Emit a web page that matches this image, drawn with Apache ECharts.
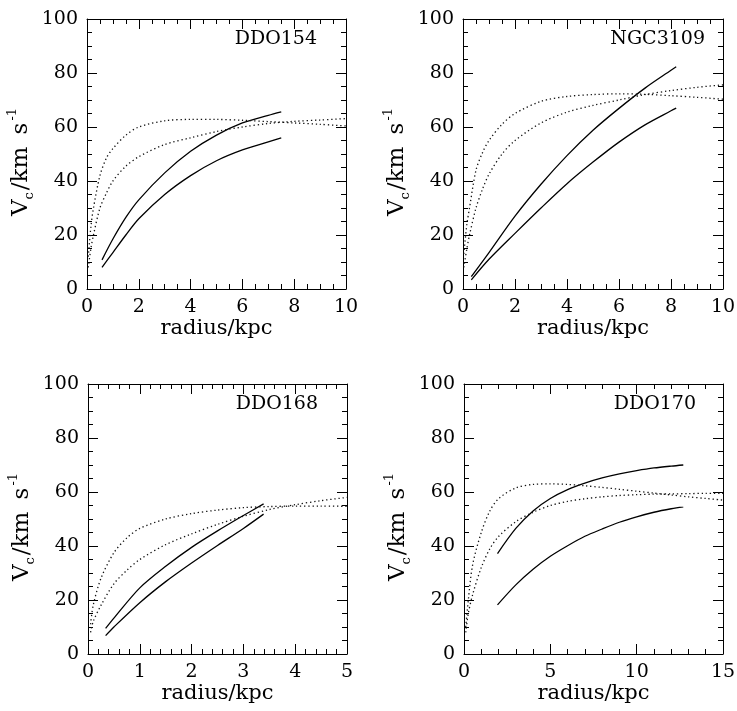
<!DOCTYPE html>
<html>
<head>
<meta charset="utf-8">
<script src="https://cdn.jsdelivr.net/npm/echarts@6/dist/echarts.min.js"></script>
<style>
html, body { margin: 0; padding: 0; background: #fff; }
#chart { width: 737px; height: 711px; }
</style>
</head>
<body>
<div id="chart"></div>
<script>
// DDO154
var ddo154SolidR = [0.58, 1, 1.5, 2, 3, 4, 5, 6, 7, 7.5];
var ddo154SolidA = [10.8, 18.5, 26.5, 33, 43, 51, 57, 61.5, 64.3, 65.6];
var ddo154SolidB = [8, 13.5, 20, 26, 35, 42, 47.5, 51.5, 54.5, 56];
var ddo154DotR = [0.05, 0.15, 0.25, 0.5, 0.75, 1, 1.5, 2, 3, 4, 5, 6, 7, 8, 9, 10];
var ddo154DotA = [12, 23, 30, 42, 48.5, 52, 57, 60, 62.3, 62.8, 62.8, 62.5, 62, 61.5, 61, 60.4];
var ddo154DotB = [8, 15, 20, 30, 35.5, 40, 45.5, 49, 53.5, 56, 58.3, 60, 61.3, 62.1, 62.6, 63.1];

// NGC3109
var ngc3109SolidR = [0.32, 1, 2, 3, 4, 5, 6, 7, 8, 8.2];
var ngc3109SolidA = [4.6, 13.5, 27, 38.8, 49.4, 58.8, 66.9, 74.4, 81, 82.3];
var ngc3109SolidB = [3.4, 11, 20.6, 30, 39, 47, 54.4, 60.8, 66, 67];
var ngc3109DotR = [0.03, 0.15, 0.25, 0.5, 0.75, 1, 1.5, 2, 3, 4, 5, 6, 7, 8, 9, 10];
var ngc3109DotA = [13, 24, 30, 44, 50.5, 55, 61, 65, 69.5, 71.3, 72, 72.3, 72.1, 71.6, 71, 70.3];
var ngc3109DotB = [8, 15, 20, 30, 37, 42.5, 50, 55, 61.5, 65.5, 68, 70, 72, 73.5, 74.7, 75.6];

// DDO168
var ddo168SolidR = [0.34, 0.5, 1, 1.5, 2, 2.5, 3, 3.39];
var ddo168SolidA = [9.5, 13.3, 24.5, 32.5, 39.5, 45.6, 51.3, 55.6];
var ddo168SolidB = [6.8, 10, 19, 26.8, 33.7, 40.2, 46.5, 51.8];
var ddo168DotR = [0.05, 0.1, 0.25, 0.5, 0.75, 1, 1.5, 2, 2.5, 3, 3.5, 4, 4.5, 5];
var ddo168DotA = [11, 18, 28, 37.5, 43, 46.5, 50, 52, 53.3, 54.2, 54.6, 54.8, 54.8, 54.7];
var ddo168DotB = [8, 12, 18, 26, 31, 35, 40.5, 44.5, 48, 51, 53.5, 55.3, 56.8, 58];

// DDO170
var ddo170SolidR = [1.94, 3, 4, 5, 6, 7, 8, 9, 10, 11, 12, 12.7];
var ddo170SolidA = [37.2, 46.5, 53, 57.6, 60.9, 63.3, 65.2, 66.7, 67.9, 68.9, 69.6, 70];
var ddo170SolidB = [18.2, 25.6, 31.4, 36.2, 40.1, 43.6, 46.3, 48.8, 50.8, 52.5, 53.8, 54.5];
var ddo170DotR = [0.1, 0.25, 0.5, 1, 1.5, 2, 3, 4, 5, 6, 7, 8, 9, 10, 11, 12, 13, 14, 15];
var ddo170DotA = [10, 20, 33, 45, 53, 57.5, 61.5, 62.8, 63, 62.8, 62.3, 61.7, 61, 60.3, 59.6, 58.9, 58.2, 57.6, 57];
var ddo170DotB = [8, 15, 22, 32, 39, 43.5, 49, 52.5, 55, 56.5, 57.5, 58.2, 58.7, 59, 59.2, 59.3, 59.4, 59.5, 59.5];

var panelNames = ["DDO154", "NGC3109", "DDO168", "DDO170"];
var xMaxList = [10, 10, 5, 15];
var xStepList = [2, 2, 1, 5];
var xMinorList = [4, 4, 5, 5];

var panels = [
    { solidR: ddo154SolidR, solid: [ddo154SolidA, ddo154SolidB], dotR: ddo154DotR, dot: [ddo154DotA, ddo154DotB] },
    { solidR: ngc3109SolidR, solid: [ngc3109SolidA, ngc3109SolidB], dotR: ngc3109DotR, dot: [ngc3109DotA, ngc3109DotB] },
    { solidR: ddo168SolidR, solid: [ddo168SolidA, ddo168SolidB], dotR: ddo168DotR, dot: [ddo168DotA, ddo168DotB] },
    { solidR: ddo170SolidR, solid: [ddo170SolidA, ddo170SolidB], dotR: ddo170DotR, dot: [ddo170DotA, ddo170DotB] }
];

var boxes = [
    { left: 87, top: 19, width: 259, height: 270 },
    { left: 463, top: 19, width: 260, height: 270 },
    { left: 88, top: 384, width: 259, height: 270 },
    { left: 464, top: 384, width: 259, height: 270 }
];
var titleRight = [420, 32, 419, 41];

var font = "DejaVu Serif";

function zip(xs, ys) {
    return xs.map(function (x, i) { return [x, ys[i]]; });
}

function axisBase(extra) {
    var a = {
        type: "value",
        axisLine: { show: true, onZero: false, lineStyle: { color: "#000", width: 1 } },
        axisTick: { show: true, inside: true, length: 10, lineStyle: { color: "#000", width: 1 } },
        minorTick: { show: true, length: 5, lineStyle: { color: "#000", width: 1 } },
        splitLine: { show: false },
        minorSplitLine: { show: false },
        axisLabel: { color: "#000", fontFamily: font, fontSize: 19, margin: 9 }
    };
    for (var k in extra) a[k] = extra[k];
    return a;
}

var option = {
    animation: false,
    backgroundColor: "#fff",
    grid: [], xAxis: [], yAxis: [], series: [], title: []
};

panels.forEach(function (p, i) {
    var b = boxes[i];
    option.grid.push({ left: b.left, top: b.top, width: b.width, height: b.height, outerBoundsMode: "none" });

    var bottomX = axisBase({ gridIndex: i, position: "bottom", min: 0, max: xMaxList[i], interval: xStepList[i],
        name: "radius/kpc", nameLocation: "middle", nameGap: 26,
        nameTextStyle: { color: "#000", fontFamily: font, fontSize: 21 } });
    bottomX.minorTick.splitNumber = xMinorList[i];
    var topX = axisBase({ gridIndex: i, position: "top", min: 0, max: xMaxList[i], interval: xStepList[i] });
    topX.minorTick.splitNumber = xMinorList[i];
    topX.axisLabel = { show: false };
    option.xAxis.push(bottomX, topX);

    var leftY = axisBase({ gridIndex: i, position: "left", min: 0, max: 100, interval: 20,
        name: "{v|V}{s|c}{v|/km}{w| s}{p|-1}", nameLocation: "middle", nameGap: 51, nameRotate: 90,
        nameTextStyle: {
            color: "#000", fontFamily: font, fontSize: 23, padding: [0, 16, 0, 0],
            rich: {
                v: { fontFamily: font, fontSize: 23, color: "#000", lineHeight: 30 },
                w: { fontFamily: font, fontSize: 23, color: "#000", lineHeight: 30, padding: [0, 2, 0, 5] },
                s: { fontFamily: font, fontSize: 13, color: "#000", lineHeight: 12, verticalAlign: "bottom", padding: [0, 2, 0, 0] },
                p: { fontFamily: font, fontSize: 13, color: "#000", lineHeight: 13, verticalAlign: "top" }
            }
        } });
    leftY.minorTick.splitNumber = 4;
    var rightY = axisBase({ gridIndex: i, position: "right", min: 0, max: 100, interval: 20 });
    rightY.minorTick.splitNumber = 4;
    rightY.axisLabel = { show: false };
    option.yAxis.push(leftY, rightY);

    p.solid.forEach(function (ys) {
        option.series.push({
            type: "line", xAxisIndex: 2 * i, yAxisIndex: 2 * i,
            data: zip(p.solidR, ys), symbol: "none", smooth: 0.3, silent: true,
            lineStyle: { color: "#000", width: 1.3 }
        });
    });
    p.dot.forEach(function (ys) {
        option.series.push({
            type: "line", xAxisIndex: 2 * i, yAxisIndex: 2 * i,
            data: zip(p.dotR, ys), symbol: "none", smooth: 0.3, silent: true,
            lineStyle: { color: "#111", width: 1.3, type: [1.3, 2.8] }
        });
    });

    option.title.push({
        text: panelNames[i], right: titleRight[i], top: b.top + 11, padding: 0,
        textStyle: { color: "#000", fontFamily: font, fontSize: 19, fontWeight: "normal" }
    });
});

echarts.init(document.getElementById("chart")).setOption(option, true);
</script>
</body>
</html>
